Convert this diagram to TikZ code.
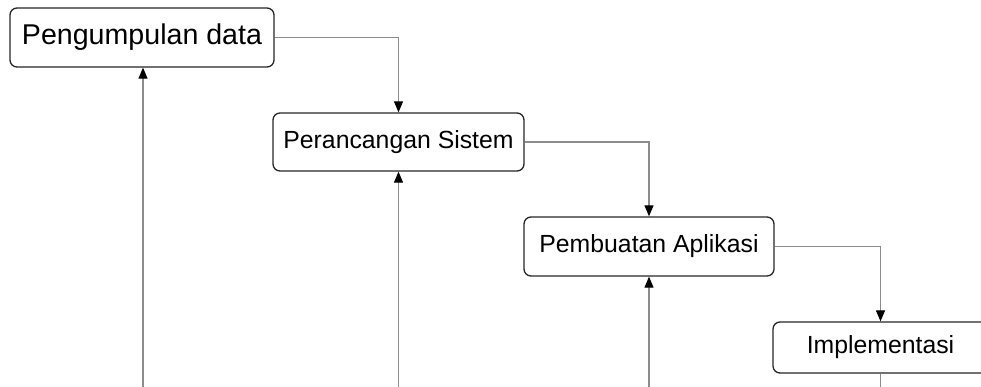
\documentclass[tikz,border=0pt]{standalone}
\usepackage{fontspec}
\setmainfont{Liberation Sans}
\usetikzlibrary{arrows.meta}

\begin{document}
\begin{tikzpicture}[x=1pt, y=-1pt,
    phase/.style ={rectangle, rounded corners=7pt, draw=black!85, line width=1.3pt,
                   inner sep=0pt, font=\fontsize{24.8}{30}\selectfont},
    flow/.style ={draw=black!45, line width=1.1pt,
                  -{Triangle[length=11pt, width=9pt, black]}}]
   \useasboundingbox (0,0) rectangle (981,387);
   \clip (0,0) rectangle (981,387);

   \node[phase, minimum width=264pt, minimum height=59pt,
         font=\fontsize{28.6}{34}\selectfont] (A) at (142,37.5) {Pengumpulan data};
   \node[phase, minimum width=251pt, minimum height=58pt] (B) at (398.5,142) {Perancangan Sistem};
   \node[phase, minimum width=250pt, minimum height=59pt] (C) at (649,246.5) {Pembuatan Aplikasi};
   \node[phase, minimum width=215pt, minimum height=51pt] (D) at (880.5,347.5) {Implementasi};

   \coordinate (a) at (143,387);
   \coordinate (b) at (398.5,387);
   \coordinate (c) at (649,387);
   \coordinate (d) at (880.5,387);

   \draw[flow] (A) -| (B);
   \draw[flow] (B) -| (C);
   \draw[flow] (C) -| (D);
   \draw[flow] (a) to (a |- A.south);
   \draw[flow] (b) to (B);
   \draw[flow] (c) to (C);
   \draw[draw=black!45, line width=1.1pt] (D) to (d);
 \end{tikzpicture}
\end{document}
